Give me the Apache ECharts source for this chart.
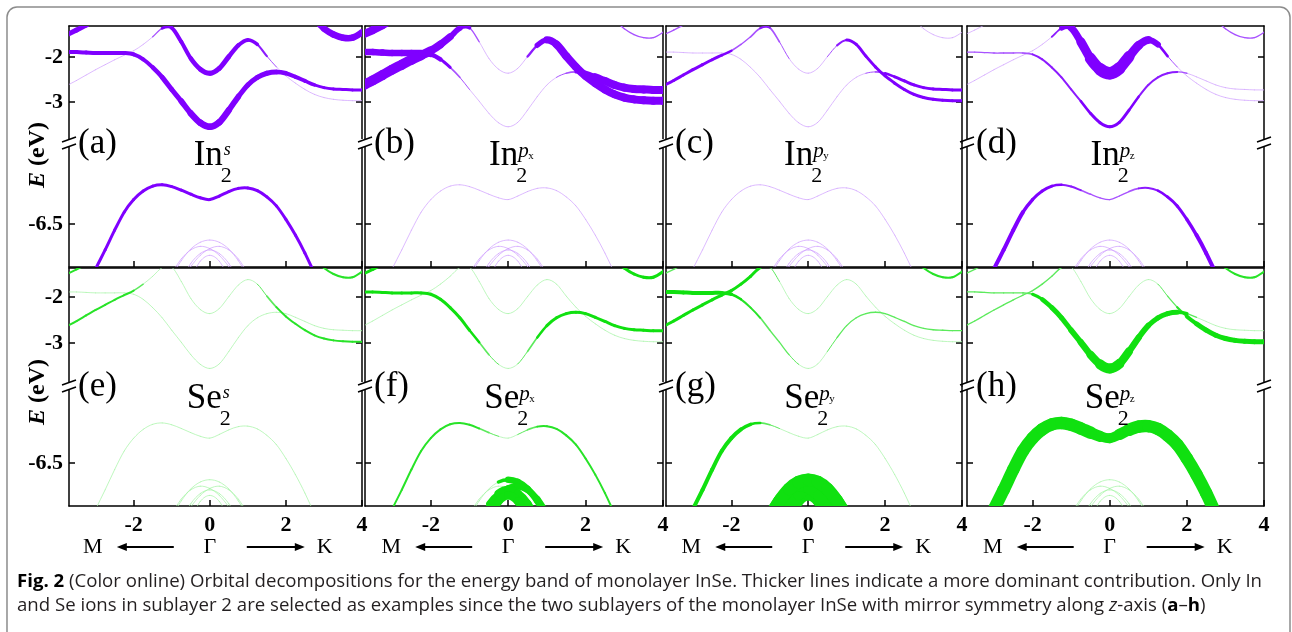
<!DOCTYPE html>
<html>
<head>
<meta charset="utf-8">
<script src="https://cdn.jsdelivr.net/npm/echarts@6.0.0/dist/echarts.min.js"></script>
<style>
html, body { margin: 0; padding: 0; background: #fff; }
#chart { width: 1292px; height: 632px; }
</style>
</head>
<body>
<div id="chart"></div>
<script>
var n = null;

// k path: M side negative, Gamma at 0, K side positive
var kPath = [-3.75, -3.5, -3.25, -3, -2.75, -2.5, -2.25, -2, -1.75, -1.5, -1.25, -1, -0.75, -0.5, -0.25, 0,
  0.25, 0.5, 0.75, 1, 1.25, 1.5, 1.75, 2, 2.25, 2.5, 2.75, 3, 3.25, 3.5, 3.75, 4, 4.25];

// upper window bands (eV)
var bandR = [-1.50, -1.40, -1.29, -1.17, -1.05];
var bandS = [n, n, n, n, n, n, n, n, n, n, n, n, n, n, n, n, n, n, n, n, n, n, n, n, n,
  -1.02, -1.18, -1.37, -1.50, -1.57, -1.57, -1.45, -1.28];
var bandP = [-1.89, -1.89, -1.90, -1.91, -1.91, -1.91, -1.91, -1.94, -2.05, -2.23, -2.45, -2.72, -2.98, -3.25, -3.46, -3.55,
  -3.45, -3.18, -2.88, -2.62, -2.45, -2.36, -2.33, -2.36, -2.44, -2.53, -2.62, -2.68, -2.71, -2.72, -2.73, -2.73, -2.73];
var bandQ = [-2.63, -2.52, -2.40, -2.28, -2.17, -2.06, -1.96, -1.86, -1.72, -1.55, -1.36, -1.35, -1.66, -2.03, -2.27, -2.36,
  -2.25, -1.99, -1.74, -1.62, -1.72, -1.98, -2.22, -2.42, -2.58, -2.72, -2.83, -2.90, -2.94, -2.96, -2.97, -2.97, -2.97];

// lower window bands (eV)
var bandV = [n, n, -7.95, -7.50, -7.08, -6.64, -6.24, -5.96, -5.77, -5.66, -5.63, -5.67, -5.75, -5.84, -5.92, -5.96,
  -5.88, -5.78, -5.71, -5.70, -5.76, -5.90, -6.10, -6.40, -6.75, -7.15, -7.60, -8.05];
var bandD1 = [n, n, n, n, n, n, n, n, n, n, n, -7.67, -7.32, -7.06, -6.91, -6.86, -6.91, -7.06, -7.32, -7.67];
var bandD2 = [n, n, n, n, n, n, n, n, n, n, n, n, -7.76, -7.38, -7.16, -7.08, -7.16, -7.38, -7.76];
var bandD3 = [n, n, n, n, n, n, n, n, n, n, n, n, n, -7.70, -7.33, -7.20, -7.33, -7.70];
var bandD4 = [n, n, n, n, n, n, n, n, n, n, n, n, -7.75, -7.45, -7.20, -7.05, -7.00, -7.08, -7.28, -7.60];
var bandD5 = [n, n, n, n, n, n, n, n, n, n, n, -7.60, -7.28, -7.08, -7.00, -7.05, -7.20, -7.45, -7.75];

// projected weight per k point, thickness level 0-9 (order R,S,P,Q,V,D1..D5; one char = same everywhere)
var wInS = ['55555', '000000000000000000000000055666665', '444444444455566666555554443333333',
  '0000000000244455554431', '3', '0', '0', '0', '0', '0'];
var wInPx = ['7', '1', '666666654210000000000124677777777', '888888877652000000467777777777777',
  '0', '0', '0', '0', '0', '0'];
var wInPy = ['1', '0', '000000000000000000000012333333333', '333333321122100000133333333333333',
  '0', '0', '0', '0', '0', '0'];
var wInPz = ['0', '1', '11111112222223333322222', '0000000000367899987741',
  '0044444333222111112223334444', '0', '0', '0', '0', '0'];
var wSeS = ['2', '2', '0', '222222220000000000000122222222222', '0', '0', '0', '0', '0', '0'];
var wSePx = ['3', '3', '333333333333210001233333333333333', '0', '0022222222222100012222222222',
  '00000000000000066666', '0000000000003377777', '000000000000077777', '00000000000055666666', '0'];
var wSePy = ['1', '2', '444444432221110000111111111111111', '333333333331', '004444444321',
  '00000000000999999999', '0000000000008888888', '000000000000088888', '00000000000088888888', '0000000000088888888'];
var wSePz = ['1', '2', '111111124555668886655552', '111111111110000000000113555555555',
  '0099999999999988899999999999', '0', '0', '0', '0', '0'];

var kTicks = [-2, 0, 2, 4];
var eTicksUp = [-3, -2];
var eTicksLow = [-6.5];

var panelWeights = [wInS, wInPx, wInPy, wInPz, wSeS, wSePx, wSePy, wSePz];
var panelSpecies = ['In', 'In', 'In', 'In', 'Se', 'Se', 'Se', 'Se'];
var panelOrbital = ['s', 'x', 'y', 'z', 's', 'x', 'y', 'z'];
var panelTags = ['(a)', '(b)', '(c)', '(d)', '(e)', '(f)', '(g)', '(h)'];

// layout
var cols = [{ l: 69, r: 362 }, { l: 365, r: 663 }, { l: 666, r: 962 }, { l: 967, r: 1264 }];
var rows = [
  { y0: 26, brk: 143, y1: 267, up: [-3.91, -1.31], low: [-7.46, -4.70] },
  { y0: 268, brk: 386, y1: 506, up: [-3.93, -1.37], low: [-7.43, -4.83] }
];
var kMin = -3.7, kMax = 4.0;
var labelOff = [13, 10, 5, 10, 12, 11, 11, 10];
var LW = [0.7, 1.3, 2, 3, 4, 5, 6.5, 8, 10, 12.5];
var SERIF = 'Liberation Serif';

function levelAt(str, i) {
  if (str.length === 1) return +str;
  return i < str.length ? +str.charAt(i) : 0;
}

function segments(bands, weights, offset) {
  var out = [];
  bands.forEach(function (E, b) {
    var ws = weights[offset + b];
    for (var i = 0; i < kPath.length - 1; i++) {
      var e0 = E[i], e1 = E[i + 1];
      if (e0 == null || e1 == null) continue;
      var hasP = E[i - 1] != null, hasN = E[i + 2] != null;
      var w = (LW[levelAt(ws, i)] + LW[levelAt(ws, i + 1)]) / 2;
      out.push([
        hasP ? kPath[i - 1] : kPath[i], hasP ? E[i - 1] : e0,
        kPath[i], e0, kPath[i + 1], e1,
        hasN ? kPath[i + 2] : kPath[i + 1], hasN ? E[i + 2] : e1,
        w
      ]);
    }
  });
  out.sort(function (a, b) { return a[8] - b[8]; });
  return out;
}

function tint(rgb, w) {
  var t = w < 1 ? 0.62 : w < 1.7 ? 0.32 : w < 2.5 ? 0.1 : 0;
  return 'rgb(' + rgb.map(function (v) { return Math.round(v + (255 - v) * t); }).join(',') + ')';
}

function makeRender(rgb) {
  return function (params, api) {
    var a = api.coord([api.value(0), api.value(1)]);
    var b = api.coord([api.value(2), api.value(3)]);
    var c = api.coord([api.value(4), api.value(5)]);
    var d = api.coord([api.value(6), api.value(7)]);
    var w = api.value(8);
    return {
      type: 'bezierCurve',
      shape: {
        x1: b[0], y1: b[1], x2: c[0], y2: c[1],
        cpx1: b[0] + (c[0] - a[0]) / 6, cpy1: b[1] + (c[1] - a[1]) / 6,
        cpx2: c[0] - (d[0] - b[0]) / 6, cpy2: c[1] - (d[1] - b[1]) / 6
      },
      style: { stroke: tint(rgb, w), lineWidth: w, fill: null, lineCap: 'round' }
    };
  };
}

var grids = [], xAxes = [], yAxes = [], series = [], graphics = [];
var black = '#000';

function buildPanel(ri, ci) {
  var pIdx = ri * 4 + ci;
  var row = rows[ri], col = cols[ci];
  var rgb = ri === 0 ? [127, 0, 255] : [16, 224, 16];
  for (var part = 0; part < 2; part++) {
    var g = grids.length;
    var gTop = part === 0 ? row.y0 : row.brk;
    var gBot = part === 0 ? row.brk : row.y1;
    var range = part === 0 ? row.up : row.low;
    var eTicks = part === 0 ? eTicksUp : eTicksLow;
    grids.push({ left: col.l, top: gTop, width: col.r - col.l, height: gBot - gTop });
    xAxes.push({
      type: 'value', gridIndex: g, min: kMin, max: kMax, position: part === 0 ? 'top' : 'bottom',
      axisLine: { show: true, onZero: false, lineStyle: { color: black, width: 1.5 } },
      axisTick: { show: part === 1, inside: true, length: 6, customValues: kTicks, lineStyle: { color: black, width: 1.5 } },
      axisLabel: { show: part === 1 && ri === 1, customValues: kTicks, margin: 8, color: black,
        fontFamily: SERIF, fontWeight: 'bold', fontSize: 22 },
      splitLine: { show: false }
    });
    ['left', 'right'].forEach(function (pos) {
      yAxes.push({
        type: 'value', gridIndex: g, position: pos, min: range[0], max: range[1],
        axisLine: { show: true, onZero: false, lineStyle: { color: black, width: 1.5 } },
        axisTick: { show: true, inside: true, length: 6, customValues: eTicks, lineStyle: { color: black, width: 1.5 } },
        axisLabel: { show: pos === 'left' && ci === 0, customValues: eTicks, margin: 6, color: black,
          fontFamily: SERIF, fontWeight: 'bold', fontSize: 22 },
        splitLine: { show: false }
      });
    });
    var bands = part === 0 ? [bandR, bandS, bandP, bandQ] : [bandV, bandD1, bandD2, bandD3, bandD4, bandD5];
    series.push({
      type: 'custom', coordinateSystem: 'cartesian2d', xAxisIndex: g, yAxisIndex: 2 * g,
      clip: true, silent: true, renderItem: makeRender(rgb),
      data: segments(bands, panelWeights[pIdx], part === 0 ? 0 : 4)
    });
  }

  // axis break marks, panel tag, orbital label
  var gx = col.l + (0 - kMin) / (kMax - kMin) * (col.r - col.l);
  var brk = row.brk;
  var marks = [col.l];
  if (ci === 3) marks.push(col.r);
  marks.forEach(function (mx) {
    graphics.push({ type: 'rect', z: 100, shape: { x: mx - 4, y: brk - 4, width: 8, height: 8 }, style: { fill: '#fff' } });
    graphics.push({ type: 'line', z: 101, shape: { x1: mx - 7, y1: brk - 1, x2: mx + 7, y2: brk - 6 }, style: { stroke: black, lineWidth: 1.5 } });
    graphics.push({ type: 'line', z: 101, shape: { x1: mx - 7, y1: brk + 6, x2: mx + 7, y2: brk + 1 }, style: { stroke: black, lineWidth: 1.5 } });
  });
  graphics.push({ type: 'text', z: 102, x: col.l + 9, y: brk + 1,
    style: { text: panelTags[pIdx], fontFamily: SERIF, fontSize: 35, fill: black, align: 'left', verticalAlign: 'middle' } });
  var rx = gx + labelOff[pIdx];
  graphics.push({ type: 'text', z: 102, x: rx, y: brk + 13,
    style: { text: panelSpecies[pIdx], fontFamily: SERIF, fontSize: 35, fill: black, align: 'right', verticalAlign: 'middle' } });
  graphics.push({ type: 'text', z: 102, x: rx - 2, y: brk + 33,
    style: { text: '2', fontFamily: SERIF, fontSize: 22, fill: black, align: 'left', verticalAlign: 'middle' } });
  if (panelOrbital[pIdx] === 's') {
    graphics.push({ type: 'text', z: 102, x: rx + 1, y: brk + 7,
      style: { text: 's', fontFamily: SERIF, fontStyle: 'italic', fontSize: 18, fill: black, align: 'left', verticalAlign: 'middle' } });
  } else {
    graphics.push({ type: 'text', z: 102, x: rx, y: brk + 8,
      style: { text: 'p', fontFamily: SERIF, fontStyle: 'italic', fontSize: 21, fill: black, align: 'left', verticalAlign: 'middle' } });
    graphics.push({ type: 'text', z: 102, x: rx + 10, y: brk + 13,
      style: { text: panelOrbital[pIdx], fontFamily: SERIF, fontSize: 11, fill: black, align: 'left', verticalAlign: 'middle' } });
  }

  // M <- Gamma -> K under the bottom row
  if (ri === 1) {
    var ay = 547;
    [['M', gx - 117], ['\u0393', gx], ['K', gx + 115]].forEach(function (t) {
      graphics.push({ type: 'text', z: 102, x: t[1], y: ay,
        style: { text: t[0], fontFamily: SERIF, fontSize: 22, fill: black, align: 'center', verticalAlign: 'middle' } });
    });
    graphics.push({ type: 'line', shape: { x1: gx - 36, y1: ay, x2: gx - 85, y2: ay }, style: { stroke: black, lineWidth: 1.8 } });
    graphics.push({ type: 'polygon', shape: { points: [[gx - 93, ay], [gx - 83, ay - 4], [gx - 83, ay + 4]] }, style: { fill: black } });
    graphics.push({ type: 'line', shape: { x1: gx + 37, y1: ay, x2: gx + 86, y2: ay }, style: { stroke: black, lineWidth: 1.8 } });
    graphics.push({ type: 'polygon', shape: { points: [[gx + 95, ay], [gx + 85, ay - 4], [gx + 85, ay + 4]] }, style: { fill: black } });
  }
}

for (var ri = 0; ri < 2; ri++) {
  for (var ci = 0; ci < 4; ci++) buildPanel(ri, ci);
  graphics.push({ type: 'text', z: 102, x: 38, y: ri === 0 ? 155 : 392, rotation: Math.PI / 2,
    style: { text: '{i|E} (eV)', fontFamily: SERIF, fontWeight: 'bold', fontSize: 24, fill: black,
      align: 'center', verticalAlign: 'middle',
      rich: { i: { fontFamily: SERIF, fontWeight: 'bold', fontStyle: 'italic', fontSize: 24, fill: black } } } });
}

// outer frame
graphics.push({ type: 'rect', z: 0, shape: { x: 7, y: 7, width: 1283, height: 640, r: 10 },
  style: { fill: null, stroke: '#8c8c8c', lineWidth: 1.5 } });

// caption
var CAP = 'Open Sans', capSize = 18.5;
var cap1a = 'Fig. 2', cap1b = ' (Color online) Orbital decompositions for the energy band of monolayer InSe. Thicker lines indicate a more dominant contribution. Only In';
var ctx = document.createElement('canvas').getContext('2d');
ctx.font = 'bold ' + capSize + 'px "' + CAP + '"';
var wa = ctx.measureText(cap1a).width;
ctx.font = capSize + 'px "' + CAP + '"';
var wb = ctx.measureText(cap1b).width;
var sx = 1245 / (wa + wb);
graphics.push({ type: 'text', z: 102, x: 17, y: 582, scaleX: sx,
  style: { text: '{b|' + cap1a + '}' + cap1b, fontFamily: CAP, fontSize: capSize, fill: '#231f20',
    align: 'left', verticalAlign: 'middle',
    rich: { b: { fontFamily: CAP, fontSize: capSize, fontWeight: 'bold', fill: '#000' } } } });
graphics.push({ type: 'text', z: 102, x: 17, y: 606, scaleX: sx,
  style: { text: 'and Se ions in sublayer 2 are selected as examples since the two sublayers of the monolayer InSe with mirror symmetry along {i|z}-axis ({b|a}\u2013{b|h})',
    fontFamily: CAP, fontSize: capSize, fill: '#231f20', align: 'left', verticalAlign: 'middle',
    rich: {
      b: { fontFamily: CAP, fontSize: capSize, fontWeight: 'bold', fill: '#000' },
      i: { fontFamily: CAP, fontSize: capSize, fontStyle: 'italic', fill: '#231f20' }
    } } });

var chart = echarts.init(document.getElementById('chart'));
chart.setOption({
  animation: false,
  backgroundColor: '#fff',
  grid: grids,
  xAxis: xAxes,
  yAxis: yAxes,
  series: series,
  graphic: { elements: graphics }
});
</script>
</body>
</html>
